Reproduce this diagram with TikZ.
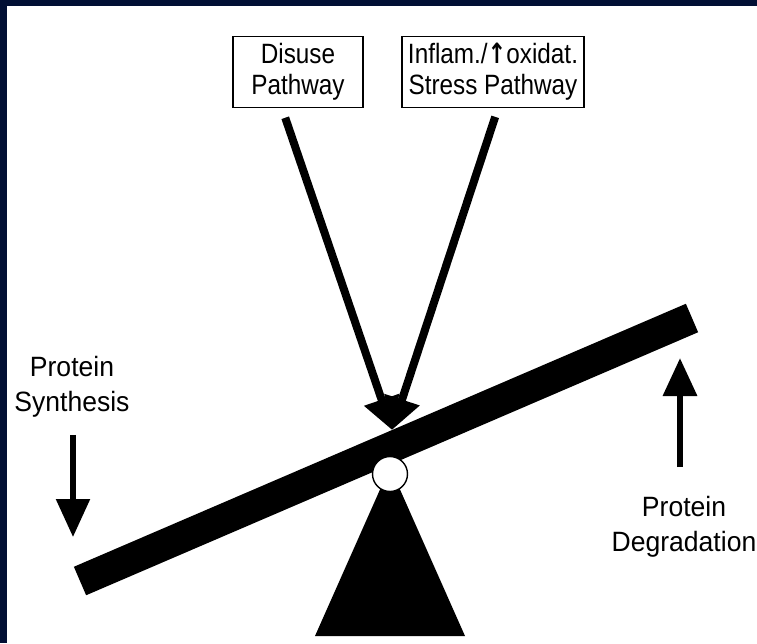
\documentclass[tikz,border=0pt]{standalone}
\usepackage{fontspec}
\usepackage{xcolor}
\usepackage{tikz}
\usetikzlibrary{arrows.meta,calc}
\newfontfamily\boxfont{Liberation Sans}[FakeStretch=0.87]
\newfontfamily\sidefont{Liberation Sans}[FakeStretch=0.95]
\newfontfamily\arrowfont{DejaVu Sans}[FakeStretch=0.8]
\definecolor{framenavy}{RGB}{1,15,52}

\begin{document}
\begin{tikzpicture}[x=0.02cm, y=-0.02cm,
    pathbox/.style={draw, line width=0.9pt, minimum height=1.42cm, inner sep=0pt, align=center,
      font=\boxfont\fontsize{15.9}{17.6}\selectfont},
    sidelabel/.style={inner sep=0pt, align=center, font=\sidefont\fontsize{15.9}{20}\selectfont},
    push/.style={line width=0.16cm, -{Triangle[length=0.64cm, width=0.7cm]}},
    turnover/.style={line width=0.13cm, -{Triangle[length=0.76cm, width=0.66cm]}}]
                % Frame
                \fill[framenavy] (0,0) rectangle (757,643);
                \fill[white] (7,6) rectangle (757,643);
                \useasboundingbox (0,0) rectangle (757,643);

                % Pathways
                \node[pathbox, minimum width=2.6cm] (disuse) at (298,72) {Disuse\\Pathway};
                \node[pathbox, minimum width=3.64cm] (inflam) at (493,72) {Inflam./{\arrowfont\bfseries ↑}oxidat.\\Stress Pathway};

                % Beam
                \coordinate (beamL) at (80,581);
                \coordinate (beamR) at (692,318);
                \draw[line width=0.62cm] (beamL) -- (beamR);

                % Fulcrum
                \fill (315,636) -- (390,467) -- (465,636) -- cycle;
                \node[circle, draw, fill=white, line width=0.8pt, minimum size=0.7cm, inner sep=0pt] (pivot) at (390,474) {};

                % Pathway arrows
                \coordinate (tip) at (392,430);
                \draw[push, shorten <=0.2cm] ($(disuse.south)+(-16,0)$) -- (tip);
                \draw[push, shorten <=0.18cm] ($(inflam.south)+(5,0)$) -- (tip);

                % Synthesis
                \node[sidelabel] (synth) at (72,387) {Protein\\Synthesis};
                \coordinate (synthend) at (73,537);
                \draw[turnover, line width=0.11cm, shorten <=0.34cm] (synth.south -| synthend) -- (synthend);

                % Degradation
                \node[sidelabel] (degrad) at (684,527) {Protein\\Degradation};
                \coordinate (degend) at (680,358);
                \draw[turnover, shorten <=0.58cm] (degrad.north -| degend) -- (degend);
            \end{tikzpicture}
\end{document}
